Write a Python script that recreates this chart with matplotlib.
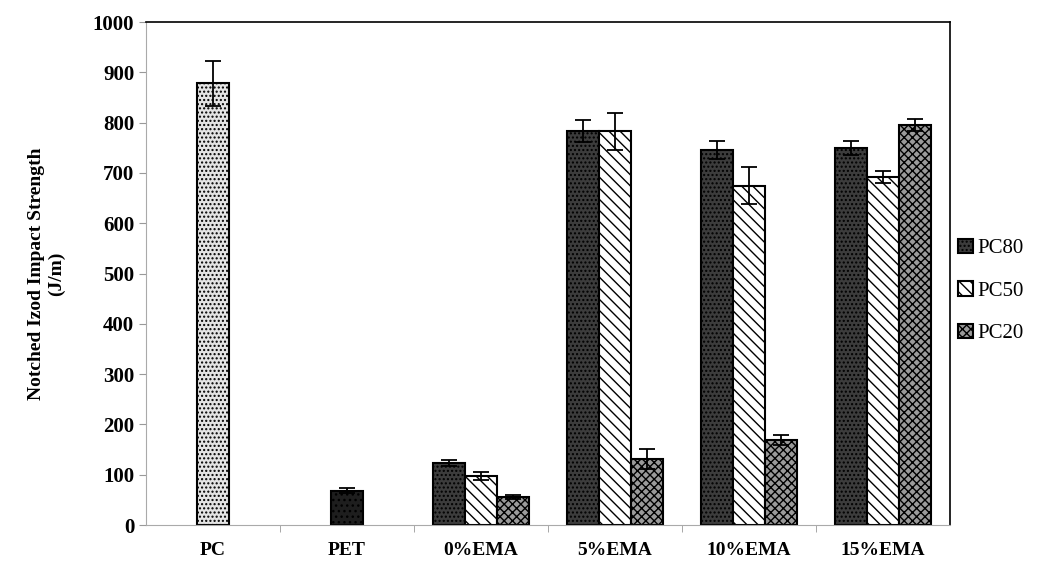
import numpy as np
import matplotlib
matplotlib.use("Agg")
import matplotlib.pyplot as plt

plt.rcParams['font.family'] = ['Liberation Serif', 'DejaVu Serif']
plt.rcParams['hatch.linewidth'] = 1.0

categories = ["PC", "PET", "0%EMA", "5%EMA", "10%EMA", "15%EMA"]

pc_val, pc_err = 878, 45
pet_val, pet_err = 68, 5

ema_cats = ["0%EMA", "5%EMA", "10%EMA", "15%EMA"]
pc80 = [124, 783, 745, 750]
pc80_err = [6, 22, 18, 14]
pc50 = [98, 783, 675, 692]
pc50_err = [8, 37, 37, 12]
pc20 = [55, 132, 170, 795]
pc20_err = [4, 20, 10, 12]

fig = plt.figure(figsize=(10.37, 5.67), dpi=100)
ax = fig.add_axes([0.1408, 0.074, 0.916 - 0.1408, 0.961 - 0.074])

w = 0.24
x = np.arange(len(categories))
xe = np.array([categories.index(c) for c in ema_cats])

ekw = dict(ecolor="black", capsize=6, elinewidth=1.3, capthick=1.3)

ax.bar(x[0], pc_val, w, yerr=pc_err, color="#e4e4e4", hatch="....",
       edgecolor="black", linewidth=1.5, error_kw=ekw)
ax.bar(x[1], pet_val, w, yerr=pet_err, color="#1e1e1e", hatch="...",
       edgecolor="black", linewidth=1.5, error_kw=ekw)

ax.bar(xe - w, pc80, w, yerr=pc80_err, color="#3c3c3c", hatch="....",
       edgecolor="black", linewidth=1.5, error_kw=ekw, label="PC80")
ax.bar(xe, pc50, w, yerr=pc50_err, color="white", hatch="\\\\\\",
       edgecolor="black", linewidth=1.5, error_kw=ekw, label="PC50")
ax.bar(xe + w, pc20, w, yerr=pc20_err, color="#9a9a9a", hatch="xxxx",
       edgecolor="black", linewidth=1.5, error_kw=ekw, label="PC20")

ax.set_xlim(-0.5, len(categories) - 0.5)
ax.set_ylim(0, 1000)
ax.set_yticks(np.arange(0, 1001, 100))
ax.set_xticks(x)
ax.set_xticklabels(categories, fontweight="bold", fontsize=14)
ax.set_xticks(np.arange(0.5, len(categories) - 0.5, 1), minor=True)
ax.tick_params(axis="x", which="major", length=0, pad=12)
ax.tick_params(axis="x", which="minor", length=5, color="#999999")
ax.tick_params(axis="y", length=5, color="#999999", labelsize=15)
for lab in ax.get_yticklabels():
    lab.set_fontweight("bold")

ax.spines["left"].set_color("#aaaaaa")
ax.spines["bottom"].set_color("#aaaaaa")
ax.spines["top"].set_color("black")
ax.spines["right"].set_color("black")
ax.spines["top"].set_linewidth(1.2)
ax.spines["right"].set_linewidth(1.2)

ax.set_ylabel("Notched Izod Impact Strength\n(J/m)", fontweight="bold",
              fontsize=14, labelpad=20)

ax.legend(loc="center left", bbox_to_anchor=(1.008, 0.465), frameon=False,
          fontsize=15, handlelength=0.7, handleheight=0.7, handletextpad=0.2,
          labelspacing=1.1, borderaxespad=0, borderpad=0.1)

fig.savefig("out.png", dpi=100)
